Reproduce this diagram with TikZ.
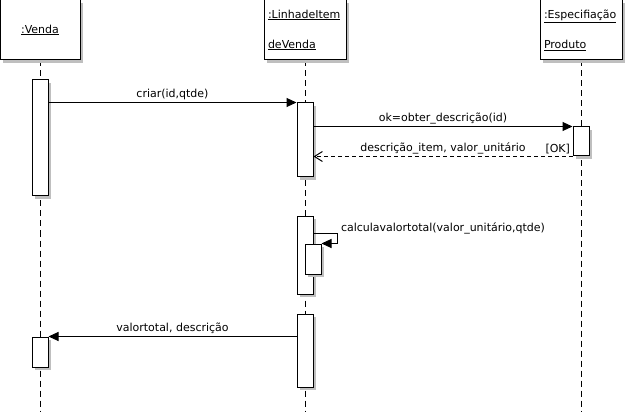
\documentclass[tikz,border=0pt]{standalone}
\usepackage{fontspec}
\setmainfont{DejaVu Sans}
\usetikzlibrary{arrows.meta,shadows,backgrounds}

\tikzset{
  shade/.style={drop shadow={shadow xshift=3pt,shadow yshift=-3pt,fill=lightgray,opacity=1}},
  obj/.style={draw, fill=white, line width=1pt, minimum width=82pt, minimum height=60pt, inner sep=0pt, shade},
  objtwo/.style={obj, align=left, text width=74pt, inner xsep=4pt, font=\fontsize{11}{30}\selectfont},
  act/.style={draw, fill=white, line width=1pt, minimum width=16pt, inner sep=0pt, shade},
  life/.style={line width=1pt, dash pattern=on 6pt off 4pt},
  msg/.style={line width=1pt, -{Triangle[length=10pt,width=9pt]}},
  ret/.style={line width=1pt, dash pattern=on 4pt off 3pt, -{Straight Barb[length=8pt,width=10pt]}},
  lbl/.style={above, inner sep=2pt}
}

\begin{document}
\begin{tikzpicture}[x=1pt, y=-1pt, font=\fontsize{11}{13}\selectfont]
  \useasboundingbox (0,0) rectangle (625,412);
  \coordinate (bot) at (0,412);

  \node[obj, minimum width=80pt] (venda) at (40,30) {\underline{:Venda}};
  \node[objtwo] (linha) at (305,30) {\underline{:LinhadeItem}\\\underline{deVenda}};
  \node[objtwo] (espec) at (581,30) {\underline{:Especifiação}\\\underline{Produto}};

  \node[act, minimum height=116pt] (vendaA) at (40,138) {};
  \node[act, minimum height=74pt] (linhaA) at (305,140) {};
  \node[act, minimum height=29pt] (especA) at (581,141.5) {};
  \node[act, minimum height=78pt] (linhaB) at (305,255) {};
  \node[act, minimum height=30pt] (nest) at (313,259) {};
  \node[act, minimum height=73pt] (linhaC) at (305,350.5) {};
  \node[act, minimum height=30pt] (vendaB) at (40,352) {};

  \begin{scope}[on background layer]
    \draw[life] (venda.south) -- (venda.south |- bot);
    \draw[life] (linha.south) -- (linha.south |- bot);
    \draw[life] (espec.south) -- (espec.south |- bot);
  \end{scope}

  \draw[msg] (vendaA.east |- linhaA.north) -- (linhaA.north west)
    node[lbl, midway] (lcriar) {criar(id,qtde)};
  \draw[msg] (linhaA.east |- especA.north) -- (especA.north west)
    node[lbl, midway] (lobter) {ok=obter\_descrição(id)};
  \draw[ret] (especA.south west) -- (linhaA.east |- especA.south)
    node[lbl, midway] (litem) {descrição\_item, valor\_unitário}
    node[lbl, pos=0, anchor=south east] (lok) {[OK]};
  \draw[msg] ([yshift=10pt]nest.north -| linhaB.east) -- ++(24,0)
    node[anchor=west, inner sep=3pt, yshift=5pt] (lcalc) {calculavalortotal(valor\_unitário,qtde)}
    |- (nest.north east);
  \draw[msg] (linhaC.west |- vendaB.north) -- (vendaB.north east)
    node[lbl, midway] (ltotal) {valortotal, descrição};
\end{tikzpicture}
\end{document}
